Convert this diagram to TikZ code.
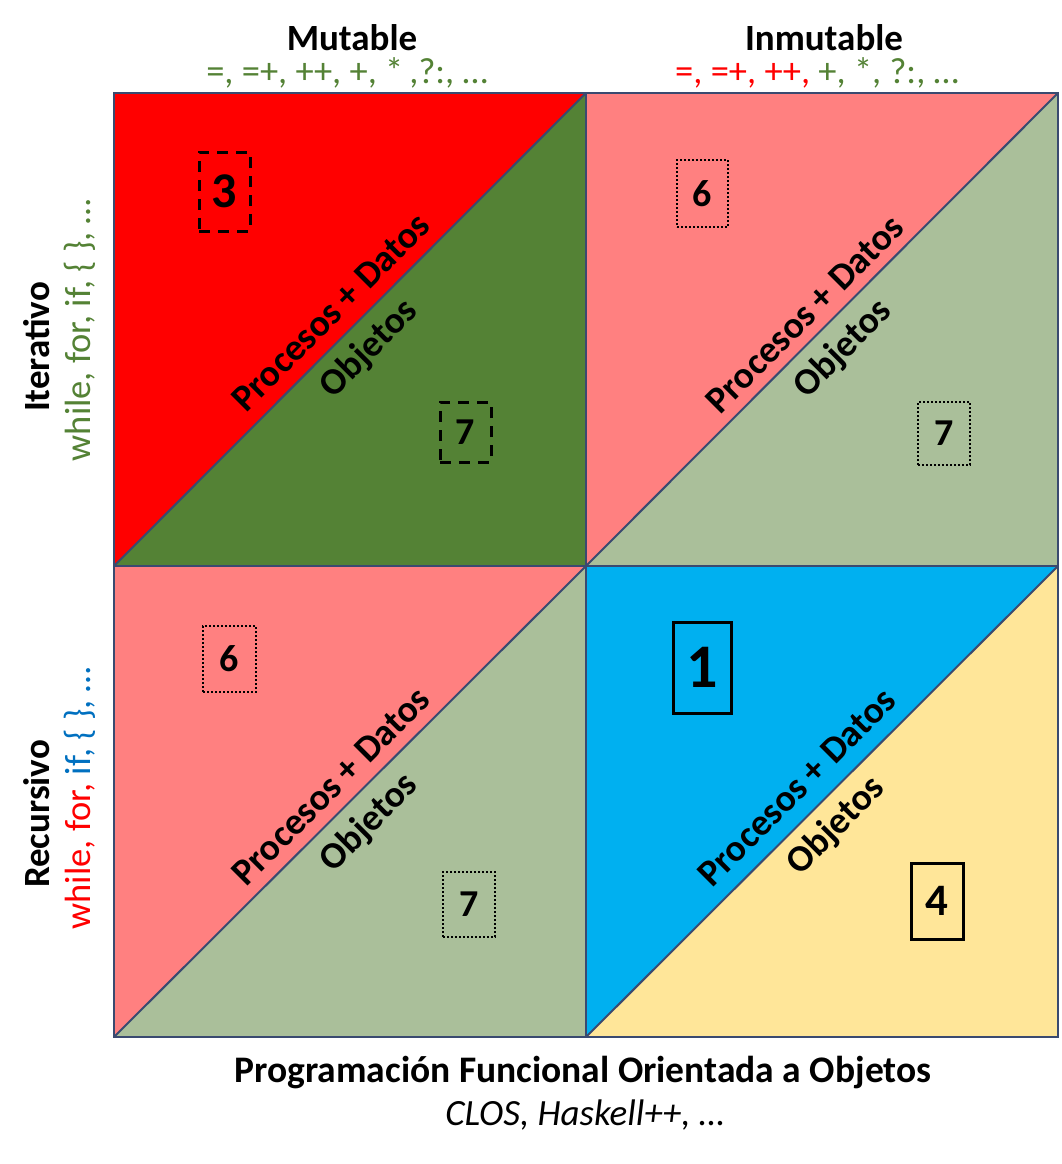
\documentclass[tikz,border=0pt]{standalone}
\usepackage{fontspec}
\setmainfont{Carlito}
\definecolor{cred}{HTML}{FF0000}
\definecolor{cdgreen}{HTML}{548235}
\definecolor{cpink}{HTML}{FF8080}
\definecolor{csage}{HTML}{AABF9A}
\definecolor{cblue}{HTML}{00B0F0}
\definecolor{cyellow}{HTML}{FFE699}
\definecolor{cline}{HTML}{3A4A70}
\definecolor{ctblue}{HTML}{0070C0}
\newcommand{\fs}[1]{\fontsize{#1}{#1}\selectfont}
\begin{document}
\begin{tikzpicture}[x=1pt,y=-1pt,
  gridline/.style={draw=cline,line width=2pt},
  diaglab/.style={rotate=45,font=\bfseries\fs{37.5},inner sep=0pt},
  dotbox/.style={draw=black,dash pattern=on 2pt off 2pt,line width=2pt,font=\bfseries\fs{38},inner sep=0pt},
  dashbox/.style={draw=black,dash pattern=on 11pt off 8pt,line width=3pt,font=\bfseries\fs{38},inner sep=0pt},
  solidbox/.style={draw=black,line width=3pt,font=\bfseries\fs{45},inner sep=0pt},
  head/.style={font=\bfseries\fs{37},inner sep=0pt},
  ops/.style={font=\fs{36.5},inner sep=0pt},
]
\useasboundingbox (0,0) rectangle (1061,1164);
\fill[white] (0,0) rectangle (1061,1164);
% coordinates
\coordinate (TL) at (114,93);
\coordinate (TM) at (586,93);
\coordinate (TR) at (1058,93);
\coordinate (ML) at (114,566);
\coordinate (MM) at (586,566);
\coordinate (MR) at (1058,566);
\coordinate (BL) at (114,1037);
\coordinate (BM) at (586,1037);
\coordinate (BR) at (1058,1037);
% quadrant fills
\fill[cred] (TL) -- (TM) -- (ML) -- cycle;
\fill[cdgreen] (TM) -- (MM) -- (ML) -- cycle;
\fill[cpink] (TM) -- (TR) -- (MM) -- cycle;
\fill[csage] (TR) -- (MR) -- (MM) -- cycle;
\fill[cpink] (ML) -- (MM) -- (BL) -- cycle;
\fill[csage] (MM) -- (BM) -- (BL) -- cycle;
\fill[cblue] (MM) -- (MR) -- (BM) -- cycle;
\fill[cyellow] (MR) -- (BR) -- (BM) -- cycle;
% grid lines
\draw[gridline] (TL) rectangle (BR);
\draw[gridline] (TM) -- (BM);
\draw[gridline] (ML) -- (MR);
\draw[gridline] (ML) -- (TM);
\draw[gridline] (MM) -- (TR);
\draw[gridline] (BL) -- (MM);
\draw[gridline] (BM) -- (MR);
% diagonal labels
\node[diaglab] (pd1) at (331,312) {Procesos + Datos};
\node[diaglab] (ob1) at (369,349) {Objetos};
\node[diaglab] (pd2) at (805,314) {Procesos + Datos};
\node[diaglab] (ob2) at (843,349) {Objetos};
\node[diaglab] (pd3) at (331,786) {Procesos + Datos};
\node[diaglab] (ob3) at (369,823) {Objetos};
\node[diaglab] (pd4) at (797,787) {Procesos + Datos};
\node[diaglab] (ob4) at (836,826) {Objetos};
% number boxes
\node[dashbox,font=\bfseries\fs{50},minimum width=51pt,minimum height=79pt] (b3) at (224.5,191.5) {3};
\node[dashbox,minimum width=51pt,minimum height=60pt] (b7a) at (465.5,432) {7};
\node[dotbox,minimum width=51pt,minimum height=67pt] (b6a) at (702.5,193.5) {6};
\node[dotbox,minimum width=52pt,minimum height=63pt] (b7b) at (944,433.5) {7};
\node[dotbox,minimum width=53pt,minimum height=66pt] (b6b) at (229.5,659) {6};
\node[dotbox,minimum width=52pt,minimum height=65pt] (b7c) at (469,904.5) {7};
\node[solidbox,font=\bfseries\fs{62},minimum width=58pt,minimum height=91pt] (b1) at (702,667.5) {1};
\node[solidbox,minimum width=52pt,minimum height=76pt] (b4) at (937,901) {4};
% headings
\node[head] (mut) at (352,38) {Mutable};
\node[ops,text=cdgreen] (mutops) at (347,73) {=, =+, ++, +, *\,,?:, …};
\node[head] (inm) at (824,38) {Inmutable};
\node[ops] (inmops) at (817,73) {\textcolor{cred}{=, =+, ++,} \textcolor{cdgreen}{+, *, ?:, …}};
\node[head,rotate=90] (ite) at (37,347) {Iterativo};
\node[ops,rotate=90,text=cdgreen] (iteops) at (80,330) {while, for, if, \{ \}, …};
\node[head,rotate=90] (rec) at (37,814) {Recursivo};
\node[ops,rotate=90] (recops) at (80,798) {\textcolor{cred}{while, for,} \textcolor{ctblue}{if, \{ \}, …}};
\node[head,font=\bfseries\fs{37.5}] (pfoo) at (583,1073) {Programación Funcional Orientada a Objetos};
\node[ops,font=\itshape\fs{37}] (clos) at (585,1115) {CLOS, Haskell++, …};
\end{tikzpicture}
\end{document}
